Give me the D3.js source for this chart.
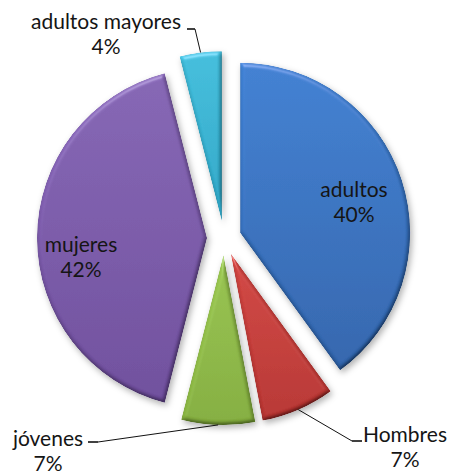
<!DOCTYPE html>
<html>
<head>
<meta charset="utf-8">
<script src="https://cdn.jsdelivr.net/npm/d3@7/dist/d3.min.js"></script>
<style>
  html, body { margin: 0; padding: 0; background: #fff; }
  svg { display: block; }
</style>
</head>
<body>
<svg id="chart" width="450" height="475"></svg>
<script>
// Population groups and their shares (percent)
const categories = ["adultos", "Hombres", "jóvenes", "mujeres", "adultos mayores"];
const values = [40, 7, 7, 42, 4];

// Slice colours: top tone and bottom tone of each gradient
const topColors = ["#3f80d2", "#d24642", "#98c450", "#8565b4", "#42bedc"];
const bottomColors = ["#3165ad", "#b73431", "#84ae3e", "#6f4e9d", "#2ea6c6"];

// Label placement: inside labels sit on the slice, outside labels get a leader
const labelPlacement = [
  { x: 354, y: 197, inside: true },
  { x: 405, y: 442, inside: false, stub: [352, 441, 362] },
  { x: 48,  y: 446, inside: false, stub: [98, 442, 88] },
  { x: 81,  y: 252, inside: true },
  { x: 106, y: 29,  inside: false, stub: [195, 29, 187] }
];

const svg = d3.select("#chart");
const cx = 224, cy = 238, radius = 170, explode = 17;

const defs = svg.append("defs");

// Bevel + soft drop shadow filter
const f = defs.append("filter").attr("id", "bevel")
  .attr("x", "-20%").attr("y", "-20%").attr("width", "140%").attr("height", "140%");
f.append("feGaussianBlur").attr("in", "SourceAlpha").attr("stdDeviation", 2.2).attr("result", "blur");
const diff = f.append("feDiffuseLighting").attr("in", "blur").attr("surfaceScale", 3)
  .attr("diffuseConstant", 1).attr("lighting-color", "#fff").attr("result", "diff");
diff.append("feDistantLight").attr("azimuth", 240).attr("elevation", 60);
const spec = f.append("feSpecularLighting").attr("in", "blur").attr("surfaceScale", 3)
  .attr("specularConstant", 0.5).attr("specularExponent", 25)
  .attr("lighting-color", "#fff").attr("result", "spec");
spec.append("feDistantLight").attr("azimuth", 260).attr("elevation", 35);
f.append("feComposite").attr("in", "spec").attr("in2", "SourceAlpha").attr("operator", "in").attr("result", "specIn");
f.append("feComposite").attr("in", "SourceGraphic").attr("in2", "diff").attr("operator", "arithmetic")
  .attr("k1", 1.155).attr("k2", 0).attr("k3", 0).attr("k4", 0).attr("result", "shaded");
f.append("feComposite").attr("in", "shaded").attr("in2", "specIn").attr("operator", "arithmetic")
  .attr("k1", 0).attr("k2", 1).attr("k3", 0.35).attr("k4", 0).attr("result", "lit");
f.append("feComposite").attr("in", "lit").attr("in2", "SourceAlpha").attr("operator", "in").attr("result", "litIn");
f.append("feGaussianBlur").attr("in", "SourceAlpha").attr("stdDeviation", 3).attr("result", "sblur");
f.append("feOffset").attr("in", "sblur").attr("dx", 2).attr("dy", 3).attr("result", "off");
f.append("feFlood").attr("flood-color", "#000").attr("flood-opacity", 0.3);
f.append("feComposite").attr("in2", "off").attr("operator", "in").attr("result", "shadow");
const merge = f.append("feMerge");
merge.append("feMergeNode").attr("in", "shadow");
merge.append("feMergeNode").attr("in", "litIn");

categories.forEach((c, i) => {
  const g = defs.append("linearGradient").attr("id", "grad" + i)
    .attr("x1", 0).attr("y1", 0).attr("x2", 0).attr("y2", 1);
  g.append("stop").attr("offset", "0%").attr("stop-color", topColors[i]);
  g.append("stop").attr("offset", "100%").attr("stop-color", bottomColors[i]);
});

const total = d3.sum(values);
const pct = d3.format(".0%");
const rows = categories.map((c, i) => ({ category: c, value: values[i], index: i }));

const pie = d3.pie().value(d => d.value).sort(null);
const arcs = pie(rows);
const arc = d3.arc().innerRadius(0).outerRadius(radius);

const root = svg.append("g").attr("transform", `translate(${cx},${cy})`);

function offsetOf(a) {
  const mid = (a.startAngle + a.endAngle) / 2;
  return [Math.sin(mid) * explode, -Math.cos(mid) * explode];
}

root.selectAll("path.slice")
  .data(arcs)
  .join("path")
  .attr("class", "slice")
  .attr("transform", d => `translate(${offsetOf(d)})`)
  .attr("d", arc)
  .attr("fill", d => `url(#grad${d.data.index})`)
  .attr("filter", "url(#bevel)");

// Leader lines for outside labels
arcs.forEach(a => {
  const lp = labelPlacement[a.data.index];
  if (lp.inside) return;
  const mid = (a.startAngle + a.endAngle) / 2;
  const [ox, oy] = offsetOf(a);
  const px = cx + ox + Math.sin(mid) * radius;
  const py = cy + oy - Math.cos(mid) * radius;
  const [sx, sy, ex] = lp.stub;
  svg.append("path")
    .attr("d", d3.line()([[px, py], [sx, sy]]))
    .attr("fill", "none").attr("stroke", "#111").attr("stroke-width", 1);
  svg.append("path")
    .attr("d", d3.line()([[sx, sy], [ex, sy]]))
    .attr("fill", "none").attr("stroke", "#111").attr("stroke-width", 1.6);
});

// Category and percentage labels
const labels = svg.append("g")
  .attr("font-family", "Lato, 'Open Sans', sans-serif")
  .attr("font-size", 21)
  .attr("fill", "#151515")
  .attr("text-anchor", "middle");

arcs.forEach(a => {
  const lp = labelPlacement[a.data.index];
  const t = labels.append("text").attr("x", lp.x).attr("y", lp.y);
  t.append("tspan").attr("x", lp.x).text(a.data.category);
  t.append("tspan").attr("x", lp.x).attr("dy", 25).text(pct(a.data.value / total));
});
</script>
</body>
</html>
